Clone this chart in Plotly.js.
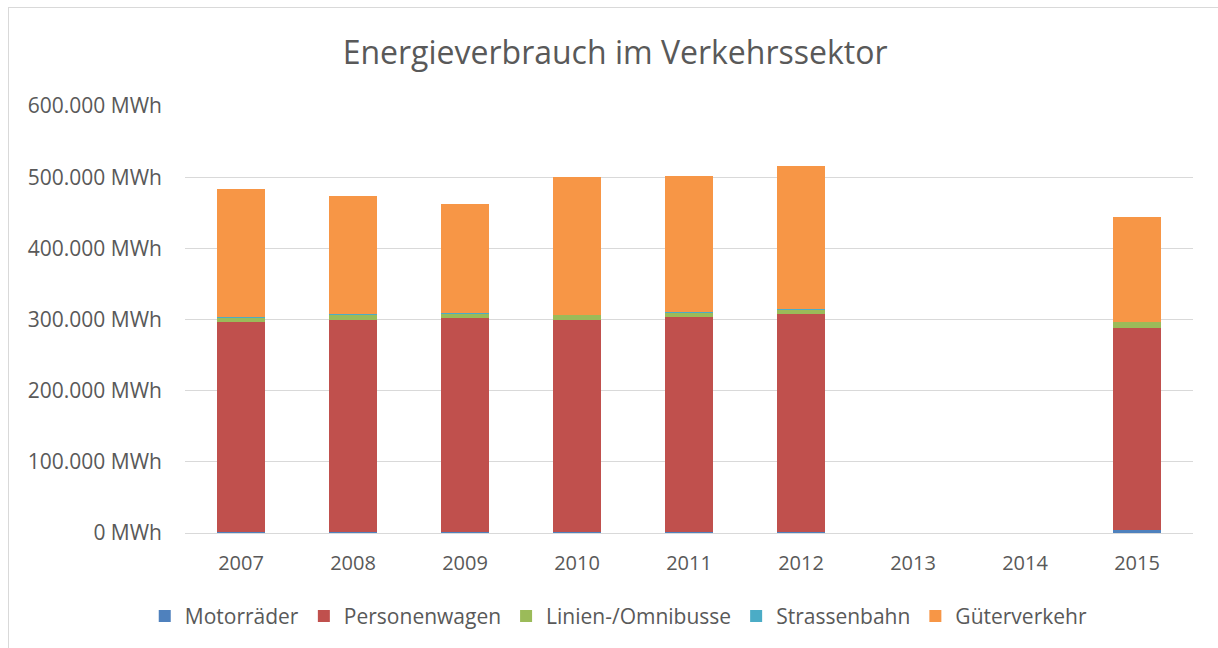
<!DOCTYPE html>
<html>
<head>
<meta charset="utf-8">
<script src="https://cdn.plot.ly/plotly-3.0.1.min.js"></script>
<style>
html,body{margin:0;padding:0;background:#fff;}
#chart{width:1218px;height:648px;position:absolute;left:0;top:0;}
#frame{position:absolute;left:8px;top:7px;width:1210px;height:641px;border-left:1px solid #d9d9d9;border-top:1px solid #d9d9d9;pointer-events:none;}
</style>
</head>
<body>
<div id="chart"></div>
<div id="frame"></div>
<script>
const years = ["2007","2008","2009","2010","2011","2012","2013","2014","2015"];
const motorraeder   = [2000, 2000, 2000, 2000, 2000, 2000, null, null, 4000];
const personenwagen = [295000, 297700, 300000, 297700, 302000, 306000, null, null, 284000];
const linienbusse   = [5600, 6100, 6100, 6100, 5200, 5200, null, null, 8400];
const strassenbahn  = [1500, 1900, 1000, 1000, 1900, 1000, null, null, 500];
const gueterverkehr = [178900, 165900, 153700, 193500, 190200, 201200, null, null, 147100];
const yTicks = [0, 100000, 200000, 300000, 400000, 500000, 600000];
const yTickLabels = ["0 MWh","100.000 MWh","200.000 MWh","300.000 MWh","400.000 MWh","500.000 MWh","600.000 MWh"];

const seriesNames = ["Motorräder","Personenwagen","Linien-/Omnibusse","Strassenbahn","Güterverkehr"];
const seriesData = [motorraeder, personenwagen, linienbusse, strassenbahn, gueterverkehr];
const colors = ["#4F81BD","#C0504D","#9BBB59","#4BACC6","#F79646"];

const font = "Open Sans, Liberation Sans, sans-serif";
const traces = seriesNames.map((n,i)=>({
  type:"bar", name:n, x:years, y:seriesData[i],
  marker:{color:colors[i], line:{width:0}},
  hovertemplate:"%{x}: %{y}<extra>"+n+"</extra>"
}));

const layout = {
  width:1218, height:648,
  paper_bgcolor:"#fff", plot_bgcolor:"#fff",
  barmode:"stack", bargap:0.58,
  margin:{l:185, r:25, t:106, b:115, autoexpand:false},
  title:{text:"Energieverbrauch im Verkehrssektor", x:0.505, xref:"container", xanchor:"center", y:0.919, yref:"container", yanchor:"middle",
         font:{family:font, size:32, color:"#595959"}},
  xaxis:{type:"category", tickfont:{family:font, size:20, color:"#595959"}, showgrid:false,
         showline:true, linecolor:"#d9d9d9", linewidth:1, ticks:"", ticklabelstandoff:12, zeroline:false},
  yaxis:{range:[0,600000], tickvals:yTicks, ticktext:yTickLabels, showgrid:true, gridcolor:"#d9d9d9", gridwidth:1,
         tickfont:{family:font, size:21, color:"#595959"}, zeroline:false, showline:false, ticks:"", ticklabelstandoff:22},
  legend:{orientation:"h", x:0.508, xref:"container", xanchor:"center", y:0.049, yref:"container", yanchor:"middle",
          font:{family:font, size:21, color:"#595959"}, traceorder:"normal", itemwidth:30},
  showlegend:true
};
Plotly.newPlot("chart", traces, layout, {displayModeBar:false, staticPlot:true});
</script>
</body>
</html>
